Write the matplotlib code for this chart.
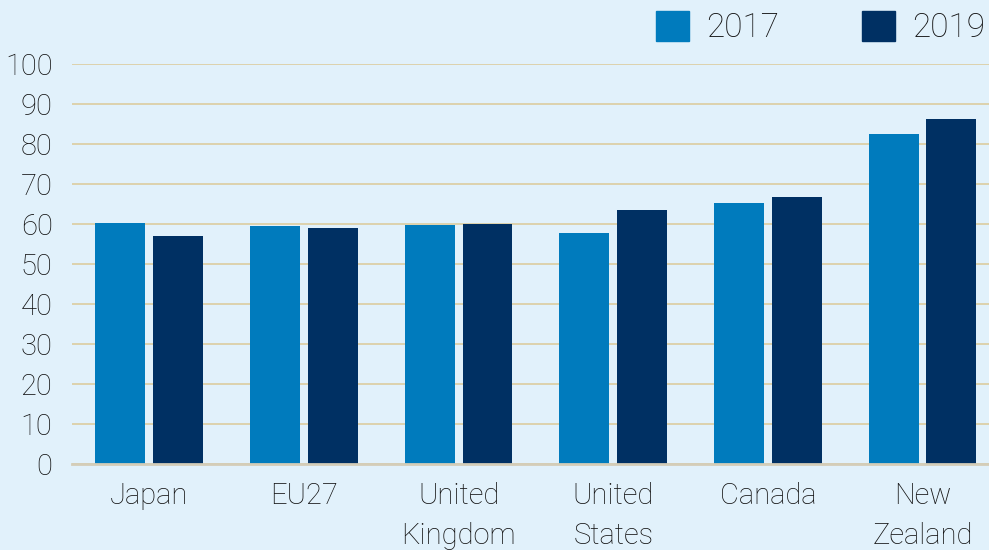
import matplotlib.pyplot as plt
from matplotlib.patches import Patch
import numpy as np

# values
countries = ['Japan', 'EU27', 'United\nKingdom', 'United\nStates', 'Canada', 'New\nZealand']
vals_2017 = [60.3, 59.5, 59.8, 57.8, 65.3, 82.5]
vals_2019 = [57.0, 59.0, 60.0, 63.5, 66.8, 86.3]
yticks = [0, 10, 20, 30, 40, 50, 60, 70, 80, 90, 100]

bg = '#e1f1fb'
c17 = '#007bbd'
c19 = '#003063'
txt = '#111111'

plt.rcParams['font.family'] = ['Roboto', 'DejaVu Sans']
plt.rcParams['font.weight'] = 'light'

fig = plt.figure(figsize=(9.89, 5.5), dpi=100, facecolor=bg)
ax = fig.add_axes([72 / 989, 1 - 464 / 550, 1 - 72 / 989, 400 / 550], facecolor=bg)

x = np.arange(len(countries))
w = 0.323
ax.bar(x - 0.187, vals_2017, w, color=c17, zorder=3)
ax.bar(x + 0.187, vals_2019, w, color=c19, zorder=3)

ax.set_xlim(-0.5, 5.43)
ax.set_ylim(0, 100)
ax.set_yticks(yticks)
ax.set_xticks(x)
ax.set_xticklabels(countries, linespacing=1.55)
ax.yaxis.grid(True, color='#dccfa6', linewidth=1.3, zorder=0)
ax.tick_params(axis='both', length=0, labelsize=21, colors=txt)
ax.tick_params(axis='y', pad=14)
ax.tick_params(axis='x', pad=13)

for s in ['top', 'right', 'left']:
    ax.spines[s].set_visible(False)
ax.spines['bottom'].set_color('#d4cdb8')
ax.spines['bottom'].set_linewidth(2)
ax.spines['bottom'].set_zorder(4)

handles = [Patch(color=c17, label='2017'), Patch(color=c19, label='2019')]
leg = fig.legend(handles=handles, loc='upper right', bbox_to_anchor=(985 / 989, 1 - 11 / 550),
                 ncol=2, frameon=False, fontsize=24, handlelength=1.0, handleheight=1.0,
                 handletextpad=0.5, columnspacing=2.5, borderpad=0, borderaxespad=0)
for t in leg.get_texts():
    t.set_color(txt)

fig.savefig('out.png', dpi=100, facecolor=bg)
